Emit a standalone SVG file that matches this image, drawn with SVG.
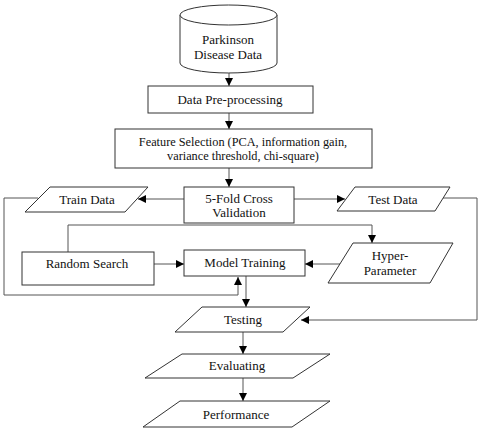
<svg xmlns="http://www.w3.org/2000/svg" width="480" height="431" viewBox="0 0 480 431">
<defs>
<marker id="ah" markerWidth="8" markerHeight="8" viewBox="0 0 8 8" refX="8" refY="4" orient="auto" markerUnits="userSpaceOnUse">
<path d="M0,0 L8,4 L0,8 Z" fill="#000"/>
</marker>
<style>
.s{fill:#fff;stroke:#333;stroke-width:1}
.c{fill:none;stroke:#555;stroke-width:1}
.a{marker-end:url(#ah)}
.t{font-family:'Liberation Serif','Tinos','DejaVu Serif',serif;font-size:13px;fill:#111;text-anchor:middle}
.f{font-size:12.3px}
</style>
</defs>
<rect width="480" height="431" fill="#fff"/>
<g id="connectors">
<line class="c a" x1="229" y1="73" x2="229" y2="86"/>
<line class="c a" x1="229" y1="113" x2="229" y2="129"/>
<line class="c a" x1="229" y1="168" x2="229" y2="187"/>
<line class="c a" x1="184" y1="199" x2="138" y2="199"/>
<line class="c a" x1="294" y1="199" x2="345" y2="199"/>
<polyline class="c a" points="38,198 4,198 4,295 238,295 238,277"/>
<polyline class="c a" points="443,198 477,198 477,320 301,320"/>
<polyline class="c a" points="68,252 68,225 372,225 372,243"/>
<line class="c a" x1="154" y1="264" x2="184" y2="264"/>
<line class="c a" x1="342" y1="264" x2="305" y2="264"/>
<line class="c a" x1="246" y1="276" x2="246" y2="307"/>
<line class="c a" x1="243" y1="332" x2="243" y2="354"/>
<line class="c a" x1="243" y1="378" x2="243" y2="401"/>
</g>
<g id="parkinson-data">
<path class="s" d="M180,15 L180,63 A48.5,10 0 0 0 277,63 L277,15"/>
<ellipse class="s" cx="228.5" cy="15" rx="48.5" ry="10"/>
<text class="t" x="228" y="44">Parkinson</text>
<text class="t" x="228" y="59">Disease Data</text>
</g>
<g id="preprocessing">
<rect class="s" x="148" y="86" width="165" height="27"/>
<text class="t" x="230" y="104">Data Pre-processing</text>
</g>
<g id="feature-selection">
<rect class="s" x="115" y="129" width="257" height="39"/>
<text class="t f" x="243" y="146">Feature Selection (PCA, information gain,</text>
<text class="t f" x="243" y="160">variance threshold, chi-square)</text>
</g>
<g id="cross-validation">
<rect class="s" x="184" y="187" width="110" height="36"/>
<text class="t" x="239" y="203">5-Fold Cross</text>
<text class="t" x="239" y="217">Validation</text>
</g>
<g id="train-data">
<polygon class="s" points="50,187 148,187 125,212 25,212"/>
<text class="t" x="87" y="204">Train Data</text>
</g>
<g id="test-data">
<polygon class="s" points="355,187 450,187 435,211 337,211"/>
<text class="t" x="393" y="204">Test Data</text>
</g>
<g id="random-search">
<rect class="s" x="22" y="252" width="132" height="33"/>
<text class="t" x="87" y="268">Random Search</text>
</g>
<g id="model-training">
<rect class="s" x="184" y="250" width="121" height="26"/>
<text class="t" x="245" y="267">Model Training</text>
</g>
<g id="hyper-parameter">
<polygon class="s" points="353,243 453,243 430,283 328,283"/>
<text class="t" x="390" y="260">Hyper-</text>
<text class="t" x="390" y="275">Parameter</text>
</g>
<g id="testing">
<polygon class="s" points="202,307 310,307 283,332 175,332"/>
<text class="t" x="243" y="324">Testing</text>
</g>
<g id="evaluating">
<polygon class="s" points="182,354 330,354 293,378 145,378"/>
<text class="t" x="237" y="370">Evaluating</text>
</g>
<g id="performance">
<polygon class="s" points="180,401 330,401 292,427 143,427"/>
<text class="t" x="236" y="419">Performance</text>
</g>
</svg>
